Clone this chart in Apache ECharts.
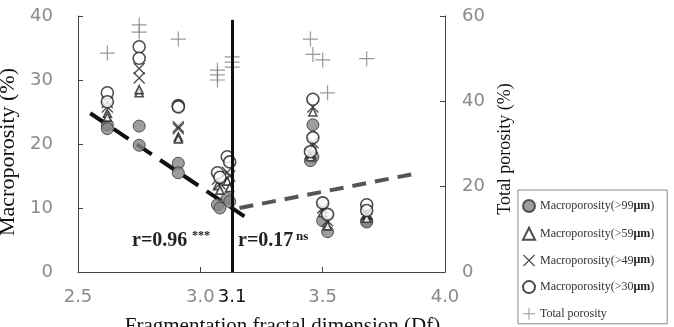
<!DOCTYPE html>
<html><head><meta charset="utf-8">
<script src="https://cdn.jsdelivr.net/npm/echarts@6/dist/echarts.min.js"></script>
<style>html,body{margin:0;padding:0;background:#fff}#c{width:674px;height:327px}</style>
</head><body><div id="c"></div>
<script>
// ---- data ----
const sampleDf   = [2.62, 2.62, 2.75, 2.75, 2.91, 2.91, 3.07, 3.08, 3.11, 3.12, 3.46, 3.46, 3.45, 3.50, 3.52, 3.68, 3.68];
const macro99    = [23.0, 22.4, 22.8, 19.8, 17.0, 15.5, 10.5, 10.0, 11.5, 11.0, 23.0, 18.0, 17.4, 8.0, 6.3, 8.0, 7.8];
const macro59    = [24.8, 24.2, 28.0, 28.5, 21.1, 20.8, 13.5, 12.8, 14.2, 13.2, 25.0, 19.3, 18.0, 9.3, 7.2, 9.0, 8.4];
const macro49    = [26.5, 25.8, 31.8, 30.3, 22.7, 22.4, 14.5, 13.8, 15.6, 15.0, 25.8, 20.2, 18.5, 10.0, 8.0, 9.8, 9.0];
const macro30    = [28.0, 26.6, 35.2, 33.4, 26.0, 25.8, 15.5, 14.8, 18.0, 17.2, 27.0, 21.0, 18.8, 10.8, 9.0, 10.5, 9.6];
const totalDf    = [2.62, 2.75, 2.75, 2.91, 3.07, 3.07, 3.07, 3.13, 3.13, 3.13, 3.45, 3.46, 3.50, 3.52, 3.68];
const totalPor   = [51.3, 57.9, 56.2, 54.6, 47.3, 46.2, 45.0, 50.4, 49.2, 48.0, 54.6, 51.0, 49.7, 42.0, 50.0];
const fitLeftX   = [2.55, 3.18];
const fitLeftY   = [24.8, 8.7];
const fitRightX  = [3.16, 3.87];
const fitRightY  = [10.0, 15.3];
const thresholdDf = 3.13;
const thresholdTop = 39.4;
const thresholdLabel = '3.1';
const xTicks = {min: 2.5, max: 4.0, interval: 0.5};
const yLeftTicks = {min: 0, max: 40, interval: 10};
const yRightTicks = {min: 0, max: 60, interval: 20};
const seriesNames = ['Macroporosity(>99μm)', 'Macroporosity(>59μm)', 'Macroporosity(>49μm)', 'Macroporosity(>30μm)', 'Total porosity'];
const rLeft = 'r=0.96', rLeftSup = '***', rRight = 'r=0.17', rRightSup = 'ns';

const zip = (xs, ys) => xs.map((x, i) => [x, ys[i]]);
const XPATH = 'path://M0,1.6L1.6,0L10,8.4L18.4,0L20,1.6L11.6,10L20,18.4L18.4,20L10,11.6L1.6,20L0,18.4L8.4,10Z';
const PLUSPATH = 'path://M9.2,0H10.8V9.2H20V10.8H10.8V20H9.2V10.8H0V9.2H9.2Z';
const tickFont = {color: '#8a8a8a', fontSize: 18, fontFamily: 'DejaVu Sans'};
const serif = 'Liberation Serif';

const chart = echarts.init(document.getElementById('c'));
chart.setOption({
  animation: false,
  grid: {left: 78, right: 229, top: 16, bottom: 55, containLabel: false, outerBoundsMode: 'none'},
  xAxis: {
    type: 'value', min: xTicks.min, max: xTicks.max, interval: xTicks.interval,
    splitLine: {show: false},
    axisLine: {lineStyle: {color: '#444', width: 1}},
    axisTick: {inside: true, length: 5, lineStyle: {color: '#444'}},
    axisLabel: Object.assign({margin: 16, formatter: v => v.toFixed(1)}, tickFont),
    name: 'Fragmentation fractal dimension (Df)', nameLocation: 'middle', nameGap: 44,
    nameTextStyle: {fontFamily: serif, fontSize: 21, color: '#111', padding: [0, 0, 0, 42]}
  },
  yAxis: [{
    type: 'value', min: yLeftTicks.min, max: yLeftTicks.max, interval: yLeftTicks.interval,
    splitLine: {show: false},
    axisLine: {show: true, lineStyle: {color: '#444', width: 1}},
    axisTick: {show: true, inside: true, length: 5, lineStyle: {color: '#444'}},
    axisLabel: Object.assign({margin: 25}, tickFont),
    name: 'Macroporosity (%)', nameLocation: 'middle', nameGap: 48, nameRotate: 90,
    nameTextStyle: {fontFamily: serif, fontSize: 22, color: '#111', padding: [0, 16, 0, 0]}
  }, {
    type: 'value', position: 'right', min: yRightTicks.min, max: yRightTicks.max, interval: yRightTicks.interval,
    splitLine: {show: false},
    axisLine: {show: true, lineStyle: {color: '#444', width: 1}},
    axisTick: {show: true, inside: true, length: 5, lineStyle: {color: '#444'}},
    axisLabel: Object.assign({margin: 17}, tickFont),
    name: 'Total porosity (%)', nameLocation: 'middle', nameGap: 47, nameRotate: 90,
    nameTextStyle: {fontFamily: serif, fontSize: 18, color: '#111', padding: [0, 10, 0, 0]}
  }],
  legend: {
    orient: 'vertical', left: 518, top: 190,
    data: seriesNames,
    padding: [9, 13, 4, 4], itemGap: 13.7, itemWidth: 12, itemHeight: 12,
    borderColor: '#888', borderWidth: 1,
    textStyle: {fontFamily: serif, fontSize: 12, color: '#333', lineHeight: 12,
      rich: {b: {fontFamily: serif, fontSize: 12, fontWeight: 'bold', color: '#222'}}},
    formatter: n => n.replace('μm', '{b|μm}')
  },
  graphic: [
    {type: 'text', left: 132, top: 231, style: {text: rLeft, font: 'bold 20px "Liberation Serif"', fill: '#222'}},
    {type: 'text', left: 192, top: 230, style: {text: rLeftSup, font: 'bold 12px "Liberation Serif"', fill: '#222'}},
    {type: 'text', left: 238, top: 231, style: {text: rRight, font: 'bold 20px "Liberation Serif"', fill: '#222'}},
    {type: 'text', left: 296, top: 230, style: {text: rRightSup, font: 'bold 13px "Liberation Serif"', fill: '#222'}}
  ],
  series: [
    {name: 'fitL', type: 'line', data: zip(fitLeftX, fitLeftY), showSymbol: false, silent: true, z: 1,
      lineStyle: {color: '#111', width: 4, type: [18, 10]},
      markLine: {silent: true, symbol: 'none', animation: false,
        lineStyle: {color: '#111', width: 3, type: 'solid'},
        label: {show: true, position: 'start', formatter: thresholdLabel, distance: 16,
          color: '#111', fontSize: 18, fontFamily: 'DejaVu Sans'},
        data: [[{coord: [thresholdDf, 0]}, {coord: [thresholdDf, thresholdTop]}]]}},
    {name: 'fitR', type: 'line', data: zip(fitRightX, fitRightY), showSymbol: false, silent: true, z: 1,
      lineStyle: {color: '#555', width: 4, type: [14, 9]}},
    {name: seriesNames[0], type: 'scatter', data: zip(sampleDf, macro99), symbol: 'circle', symbolSize: 12,
      itemStyle: {color: '#858585', borderColor: '#333', borderWidth: 1}, z: 3},
    {name: seriesNames[1], type: 'scatter', data: zip(sampleDf, macro59), symbol: 'triangle', symbolSize: 8,
      itemStyle: {color: '#fff', borderColor: '#222', borderWidth: 1.6}, z: 3},
    {name: seriesNames[2], type: 'scatter', data: zip(sampleDf, macro49), symbol: XPATH, symbolSize: 12,
      itemStyle: {color: '#222'}, z: 3},
    {name: seriesNames[3], type: 'scatter', data: zip(sampleDf, macro30), symbol: 'circle', symbolSize: 12,
      itemStyle: {color: '#fff', borderColor: '#222', borderWidth: 1.6}, z: 3},
    {name: seriesNames[4], type: 'scatter', yAxisIndex: 1, data: zip(totalDf, totalPor), symbol: PLUSPATH, symbolSize: 15,
      itemStyle: {color: '#808080'}, z: 3}
  ]
});
</script></body></html>
